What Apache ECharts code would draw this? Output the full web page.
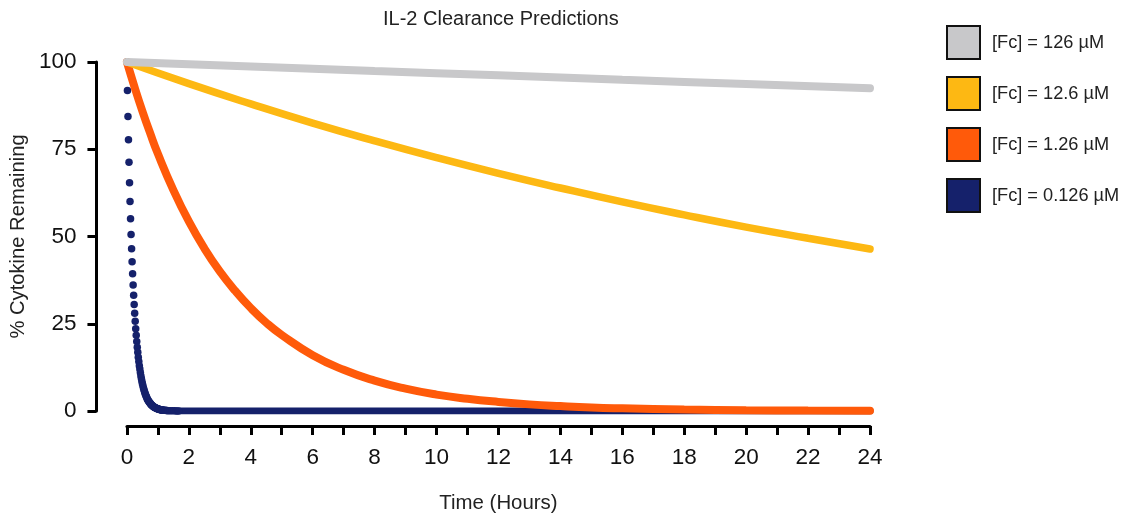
<!DOCTYPE html>
<html>
<head>
<meta charset="utf-8">
<script src="https://cdn.jsdelivr.net/npm/echarts@6/dist/echarts.min.js"></script>
<style>html,body{margin:0;padding:0;background:#fff;}#c{width:1125px;height:518px;}</style>
</head>
<body>
<div id="c"></div>
<script>
// Series names (legend order)
const seriesNames = ['[Fc] = 126 µM', '[Fc] = 12.6 µM', '[Fc] = 1.26 µM', '[Fc] = 0.126 µM'];
const xTicks = [0, 2, 4, 6, 8, 10, 12, 14, 16, 18, 20, 22, 24];
const yTicks = [0, 25, 50, 75, 100];

// [Fc] = 126 µM (hours, % remaining)
const grayT = [0, 4, 8, 12, 16, 20, 24];
const grayV = [100, 98.7, 97.4, 96.2, 94.9, 93.7, 92.5];

// [Fc] = 12.6 µM
const yellowT = [0, 2, 4, 6, 8, 10, 12, 14, 16, 18, 20, 22, 24];
const yellowV = [100, 93.8, 88.0, 82.5, 77.4, 72.6, 68.1, 63.9, 59.9, 56.2, 52.7, 49.5, 46.4];

// [Fc] = 1.26 µM
const orangeT = [0, 0.25, 0.5, 0.75, 1, 1.5, 2, 2.5, 3, 3.5, 4, 4.5, 5, 6, 7, 8, 9, 10, 11, 12, 13, 14, 15, 16, 18, 20, 22, 24];
const orangeV = [100, 92.7, 85.9, 79.6, 73.7, 63.3, 54.3, 46.6, 40.0, 34.4, 29.5, 25.3, 21.8, 16.0, 11.8, 8.7, 6.4, 4.7, 3.5, 2.6, 1.9, 1.4, 1.0, 0.76, 0.41, 0.22, 0.12, 0.07];

// [Fc] = 0.126 µM, sampled each minute at the start (minutes, % remaining)
const navyMin = [0,1,2,3,4,5,6,7,8,9,10,11,12,13,14,15,16,17,18,19,20,21,22,23,24,25,26,27,28,29,30,31,32,33,34,35,36,37,38,39,40,41,42,43,44,45,46,47,48,49,50,51,52,53,54,55,56,57,58,59,60,61,62,63,64,65,66,67,68,69,70,72,74,76,78,80,84,88,92,96,100];
const navyV = [100,91.8,84.4,77.7,71.3,65.4,60.0,55.1,50.6,46.5,42.8,39.3,36.1,33.2,30.5,28.0,25.7,23.6,21.7,19.9,18.3,16.8,15.4,14.2,13.0,12.0,11.0,10.1,9.3,8.5,7.8,7.2,6.6,6.1,5.6,5.1,4.7,4.3,4.0,3.6,3.3,3.1,2.8,2.6,2.4,2.2,2.0,1.8,1.7,1.6,1.4,1.3,1.2,1.1,1.0,0.9,0.85,0.8,0.7,0.65,0.6,0.55,0.5,0.45,0.4,0.38,0.35,0.32,0.3,0.27,0.25,0.2,0.18,0.15,0.12,0.1,0.08,0.06,0.04,0.03,0.02];
// tail of [Fc] = 0.126 µM (hours)
const navyTailT = [1.6, 24];
const navyTailV = [0, 0];

const colors = { gray: '#c8c8ca', yellow: '#fdb813', orange: '#ff5a0a', navy: '#15216b' };

const pairs = (t, v) => t.map((x, i) => [x, v[i]]);
const navyPts = pairs(navyMin.map(m => m / 60), navyV);

const FONT = '"Liberation Sans", Arial, Helvetica, sans-serif';
const chart = echarts.init(document.getElementById('c'), null, { renderer: 'canvas' });

chart.setOption({
  animation: false,
  backgroundColor: '#ffffff',
  title: {
    text: 'IL-2 Clearance Predictions',
    left: 378, top: 4,
    textStyle: { fontFamily: FONT, fontSize: 20, fontWeight: 'normal', color: '#222' }
  },
  legend: {
    orient: 'vertical', left: 946, top: 25, padding: 0,
    itemWidth: 33, itemHeight: 33, itemGap: 16,
    icon: 'rect',
    data: seriesNames,
    itemStyle: { borderColor: '#111', borderWidth: 2 },
    textStyle: { fontFamily: FONT, fontSize: 18.2, color: '#222', padding: [0, 0, 0, 7] },
    selectedMode: false
  },
  grid: { left: 126.5, right: 255, top: 62, bottom: 106, containLabel: false },
  xAxis: {
    type: 'value', min: 0, max: 24, interval: 1,
    offset: 15,
    name: 'Time (Hours)', nameLocation: 'middle', nameGap: 67,
    nameTextStyle: { fontFamily: FONT, fontSize: 20.4, color: '#222' },
    axisLine: { show: true, onZero: false, lineStyle: { color: '#000', width: 3 } },
    axisTick: { show: true, length: 9, lineStyle: { color: '#000', width: 3 } },
    axisLabel: {
      fontFamily: FONT, fontSize: 22.5, color: '#111', margin: 20,
      formatter: v => (xTicks.indexOf(v) >= 0 ? String(v) : '')
    },
    splitLine: { show: false }
  },
  yAxis: {
    type: 'value', min: 0, max: 100, interval: 25,
    offset: 30.5,
    name: '% Cytokine Remaining', nameLocation: 'middle', nameGap: 64,
    nameTextStyle: { fontFamily: FONT, fontSize: 20.2, color: '#222' },
    axisLine: { show: true, onZero: false, lineStyle: { color: '#000', width: 3 } },
    axisTick: { show: true, length: 9, lineStyle: { color: '#000', width: 3 } },
    axisLabel: {
      fontFamily: FONT, fontSize: 22.5, color: '#111', margin: 20,
      formatter: v => (yTicks.indexOf(v) >= 0 ? String(v) : '')
    },
    splitLine: { show: false }
  },
  series: [
    {
      name: seriesNames[3], type: 'line', data: pairs(navyTailT, navyTailV),
      showSymbol: false, symbol: 'none', z: 1,
      lineStyle: { color: colors.navy, width: 7, cap: 'round' },
      itemStyle: { color: colors.navy }
    },
    {
      name: seriesNames[3], type: 'scatter', data: navyPts,
      symbol: 'circle', symbolSize: 7.5, z: 2,
      itemStyle: { color: colors.navy, opacity: 1 }
    },
    {
      name: seriesNames[2], type: 'line', data: pairs(orangeT, orangeV),
      smooth: true, showSymbol: false, symbol: 'none', z: 3,
      lineStyle: { color: colors.orange, width: 8, cap: 'round' },
      itemStyle: { color: colors.orange }
    },
    {
      name: seriesNames[1], type: 'line', data: pairs(yellowT, yellowV),
      smooth: true, showSymbol: false, symbol: 'none', z: 4,
      lineStyle: { color: colors.yellow, width: 7.5, cap: 'round' },
      itemStyle: { color: colors.yellow }
    },
    {
      name: seriesNames[0], type: 'line', data: pairs(grayT, grayV),
      smooth: true, showSymbol: false, symbol: 'none', z: 5,
      lineStyle: { color: colors.gray, width: 8, cap: 'round' },
      itemStyle: { color: colors.gray }
    }
  ]
});
</script>
</body>
</html>
